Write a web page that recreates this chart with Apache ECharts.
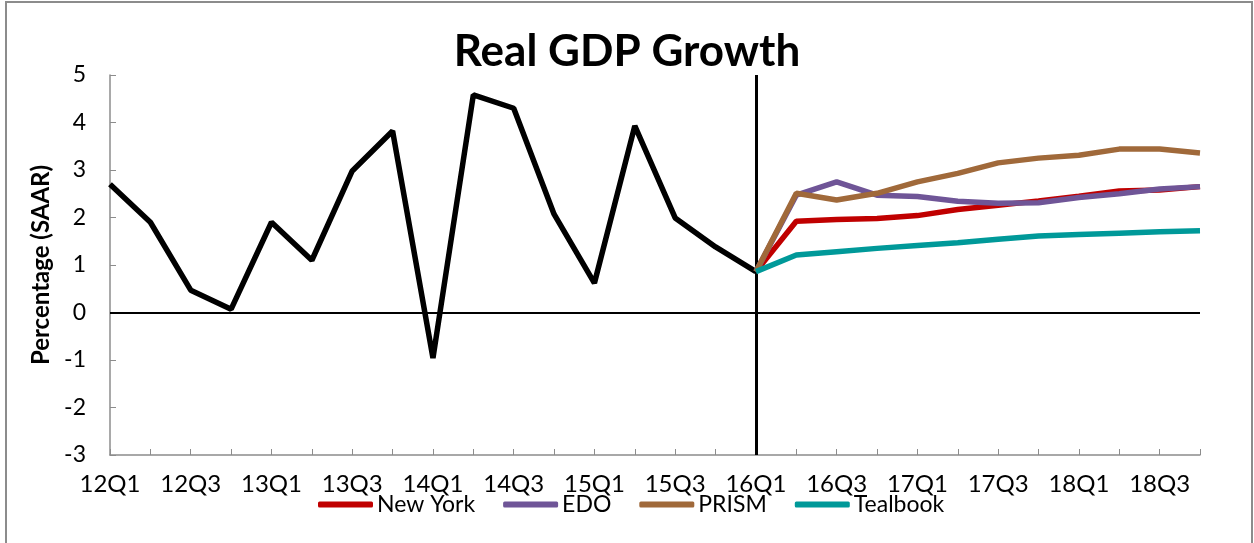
<!DOCTYPE html>
<html>
<head>
<meta charset="utf-8">
<script src="https://cdn.jsdelivr.net/npm/echarts@6/dist/echarts.min.js"></script>
<style>
html,body{margin:0;padding:0;background:#fff;}
#chart{width:1254px;height:543px;}
</style>
</head>
<body>
<div id="chart"></div>
<script>
const categories = ['12Q1','12Q2','12Q3','12Q4','13Q1','13Q2','13Q3','13Q4','14Q1','14Q2','14Q3','14Q4','15Q1','15Q2','15Q3','15Q4','16Q1','16Q2','16Q3','16Q4','17Q1','17Q2','17Q3','17Q4','18Q1','18Q2','18Q3','18Q4'];
const historical = [2.7,1.9,0.47,0.07,1.9,1.1,2.98,3.82,-0.96,4.58,4.3,2.07,0.62,3.93,1.99,1.38,0.86];
const newYork  = [0.86,1.92,1.96,1.98,2.04,2.17,2.26,2.35,2.45,2.56,2.58,2.65];
const edo      = [0.86,2.47,2.75,2.47,2.44,2.34,2.3,2.31,2.42,2.5,2.6,2.65];
const prism    = [0.86,2.51,2.37,2.51,2.75,2.93,3.15,3.25,3.31,3.44,3.44,3.36];
const tealbook = [0.86,1.21,1.28,1.35,1.41,1.47,1.54,1.61,1.64,1.67,1.70,1.72];
const forecastStart = '16Q1';
const seriesNames = ['New York','EDO','PRISM','Tealbook'];
const seriesColors = ['#c00000','#6f5597','#a0693a','#009999'];

const startIdx = categories.indexOf(forecastStart);
function padHist(arr){ const out = arr.slice(); while(out.length < categories.length) out.push(null); return out; }
function padFc(arr){ const out = []; for(let i=0;i<startIdx;i++) out.push(null); return out.concat(arr); }

const FONT = 'Lato, Carlito, Calibri, "Noto Sans", sans-serif';
const chart = echarts.init(document.getElementById('chart'), null, {renderer:'canvas'});

const fcData = [newYork, edo, prism, tealbook];
const series = [{
  name: 'History', type: 'line', data: padHist(historical), showSymbol: false, symbol: 'none',
  lineStyle: {color: '#000', width: 5.5}, itemStyle: {color:'#000'}, z: 3,
  markLine: {
    silent: true, symbol: 'none', label: {show: false},
    data: [
      {yAxis: 0, lineStyle: {color: '#000', width: 2, type: 'solid'}},
      {xAxis: forecastStart, lineStyle: {color: '#000', width: 3, type: 'solid'}}
    ]
  }
}];
fcData.forEach((d, i) => {
  series.push({
    name: seriesNames[i], type: 'line', data: padFc(d), showSymbol: false, symbol: 'none',
    lineStyle: {color: seriesColors[i], width: 5.5}, itemStyle: {color: seriesColors[i]}, z: 4 + i
  });
});

chart.setOption({
  animation: false,
  backgroundColor: '#fff',
  textStyle: {fontFamily: FONT},
  title: {
    text: 'Real GDP Growth', left: 'center', top: 25,
    textStyle: {fontFamily: FONT, fontSize: 44, fontWeight: 'bold', color: '#000'}
  },
  legend: {
    data: seriesNames, left: 313, top: 488, itemGap: 28, itemWidth: 55, itemHeight: 6,
    icon: 'roundRect',
    textStyle: {fontFamily: FONT, fontSize: 23, color: '#000', padding: [0,0,0,-1]}
  },
  grid: {left: 110, right: 54, top: 75, bottom: 88, containLabel: false},
  xAxis: {
    type: 'category', data: categories, boundaryGap: false,
    axisLine: {onZero: false, lineStyle: {color: '#8c8c8c', width: 1.5}},
    axisTick: {show: true, inside: true, length: 6, interval: 0, lineStyle: {color: '#8c8c8c'}},
    axisLabel: {interval: 1, fontFamily: FONT, fontSize: 24, color: '#000', margin: 17},
    splitLine: {show: false}
  },
  yAxis: {
    type: 'value', min: -3, max: 5, interval: 1,
    name: 'Percentage (SAAR)', nameLocation: 'middle', nameGap: 56, nameRotate: 90,
    nameTextStyle: {fontFamily: FONT, fontSize: 24, fontWeight: 'bold', color: '#000'},
    axisLine: {show: true, lineStyle: {color: '#8c8c8c', width: 1.5}},
    axisTick: {show: true, inside: true, length: 6, lineStyle: {color: '#8c8c8c'}},
    axisLabel: {fontFamily: FONT, fontSize: 23, color: '#000', margin: 24},
    splitLine: {show: false}
  },
  graphic: [{
    type: 'rect', silent: true, z: -1,
    shape: {x: 6, y: 2, width: 1246, height: 560},
    style: {fill: 'none', stroke: '#8c8c8c', lineWidth: 2}
  }],
  series: series
});
</script>
</body>
</html>
